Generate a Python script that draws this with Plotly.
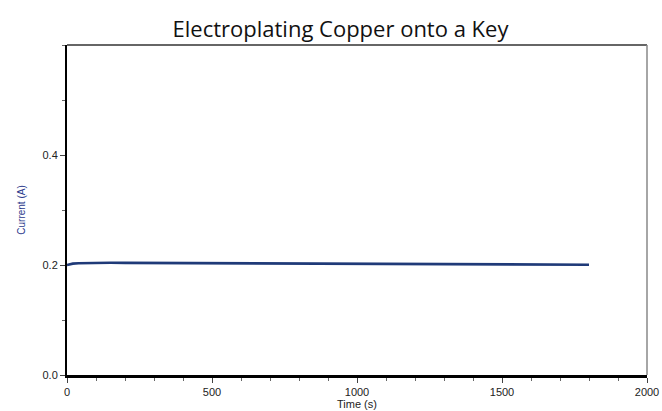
import plotly.graph_objects as go

time_s = [0, 10, 20, 40, 70, 100, 150, 200, 300, 400, 500, 600, 800, 1000, 1200, 1400, 1600, 1800]
current_a = [0.200, 0.2015, 0.2025, 0.2033, 0.2038, 0.2040, 0.2040, 0.2039, 0.2036, 0.2033, 0.2030, 0.2027, 0.2022, 0.2018, 0.2014, 0.2010, 0.2007, 0.2005]

x_ticks = [0, 500, 1000, 1500, 2000]
y_ticks = [0.0, 0.2, 0.4]
y_tick_labels = ["0.0", "0.2", "0.4"]

fig = go.Figure()
fig.add_trace(go.Scatter(x=time_s, y=current_a, mode="lines",
                         line=dict(color="#1f3a78", width=2.6), showlegend=False))

fig.update_layout(
    width=662, height=411,
    margin=dict(l=67, r=15, t=45, b=36, autoexpand=False),
    paper_bgcolor="white", plot_bgcolor="white",
    title=dict(text="Electroplating Copper onto a Key", x=340.5 / 662, xanchor="center",
               y=0.928, yanchor="middle",
               font=dict(family="Open Sans, DejaVu Sans, sans-serif", size=22, color="#111")),
    font=dict(family="Liberation Sans, Arial, sans-serif", size=11, color="#222"),
)

fig.update_xaxes(
    range=[0, 2000], tickvals=x_ticks, ticks="outside", ticklen=5, tickcolor="#444",
    minor=dict(dtick=100, ticks="outside", ticklen=3, tickcolor="#666"),
    showgrid=False, zeroline=False, showline=True, linecolor="black", linewidth=3,
    automargin=False,
    title=dict(text="Time (s)", font=dict(size=11, color="#222"), standoff=0),
)
fig.update_yaxes(
    range=[0, 0.6], tickvals=y_ticks, ticktext=y_tick_labels, ticks="outside", ticklen=5,
    tickcolor="#444",
    minor=dict(dtick=0.1, ticks="outside", ticklen=3, tickcolor="#666"),
    showgrid=False, zeroline=False, showline=True, linecolor="black", linewidth=2,
    automargin=False,
    title=dict(text="Current (A)", font=dict(size=10, color="#2b3a8c"), standoff=15),
)

# top and right frame lines
fig.add_shape(type="line", xref="paper", yref="paper", x0=0, x1=1, y0=1, y1=1,
              line=dict(color="#333", width=1.5))
fig.add_shape(type="line", xref="paper", yref="paper", x0=1, x1=1, y0=0, y1=1,
              line=dict(color="#888", width=1.5))

fig.write_html("out.html")
